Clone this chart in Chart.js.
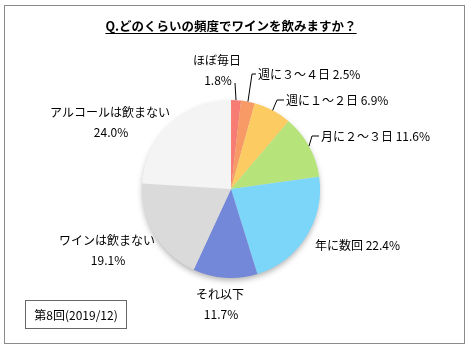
<!DOCTYPE html>
<html>
<head>
<meta charset="utf-8">
<style>
  html, body { margin: 0; padding: 0; background: #fff; }
  #wrap { width: 470px; height: 350px; position: relative; }
</style>
<script src="https://cdn.jsdelivr.net/npm/chart.js"></script>
</head>
<body>
<div id="wrap"><canvas id="wine-chart" width="470" height="350"></canvas></div>
<script>
  // data
  const categories = ["ほぼ毎日", "週に３～４日", "週に１～２日", "月に２～３日", "年に数回", "それ以下", "ワインは飲まない", "アルコールは飲まない"];
  const shares = [1.8, 2.5, 6.9, 11.6, 22.4, 11.7, 19.1, 24.0];
  const titleText = "Q.どのくらいの頻度でワインを飲みますか？";
  const noteText = "第8回(2019/12)";

  // slice colours [light, dark]
  const sliceColors = [
    ["#F77C73", "#E2473E"],
    ["#F89A66", "#EC6A3E"],
    ["#FCCB62", "#F0A533"],
    ["#B6E47A", "#88C44C"],
    ["#7CD6FA", "#44A6D6"],
    ["#7488DA", "#4658B0"],
    ["#DADADA", "#B4B4B4"],
    ["#F4F4F4", "#DEDEDE"],
  ];

  // label layout: text anchor, align, two lines or one, leader elbow
  const labelLayout = [
    { x: 217, y: 60, align: "center", twoLine: true, elbow: [235, 83] },
    { x: 258, y: 74, align: "left", elbow: [252, 74] },
    { x: 286, y: 100, align: "left", elbow: [277, 100] },
    { x: 321, y: 136, align: "left", elbow: [312, 136] },
    { x: 315, y: 245, align: "left" },
    { x: 220, y: 294, align: "center", twoLine: true },
    { x: 107, y: 240, align: "center", twoLine: true },
    { x: 110, y: 112, align: "center", twoLine: true },
  ];

  const FONT = '"Noto Sans CJK JP", "Noto Sans", sans-serif';

  function sliceFill(context) {
    const i = context.dataIndex;
    const chart = context.chart;
    const meta = chart.getDatasetMeta(0);
    const arc = meta.data[i];
    if (!arc || !arc.outerRadius) return sliceColors[i][0];
    const r = arc.outerRadius;
    const g = chart.ctx.createLinearGradient(arc.x - r, arc.y - r, arc.x + r * 0.8, arc.y + r * 0.8);
    g.addColorStop(0, sliceColors[i][0]);
    g.addColorStop(1, sliceColors[i][1]);
    return g;
  }

  const decorPlugin = {
    id: "decor",
    beforeDatasetsDraw(chart) {
      const ctx = chart.ctx;
      const arc = chart.getDatasetMeta(0).data[0];
      if (!arc) return;
      ctx.save();
      ctx.shadowColor = "rgba(0,0,0,0.35)";
      ctx.shadowBlur = 6;
      ctx.shadowOffsetY = 3;
      ctx.fillStyle = "#ddd";
      ctx.beginPath();
      ctx.arc(arc.x, arc.y, arc.outerRadius - 1, 0, Math.PI * 2);
      ctx.fill();
      ctx.restore();
    },
    afterDraw(chart) {
      const ctx = chart.ctx;
      ctx.save();
      // frame
      ctx.strokeStyle = "#8a8a8a";
      ctx.lineWidth = 1;
      ctx.strokeRect(4.5, 5.5, 460, 338);

      // title
      ctx.fillStyle = "#000";
      ctx.font = "bold 12.5px " + FONT;
      ctx.textAlign = "center";
      ctx.textBaseline = "middle";
      ctx.fillText(titleText, 231, 26);
      const tw = ctx.measureText(titleText).width;
      ctx.fillRect(231 - tw / 2, 33, tw, 1);

      // labels and leaders
      const meta = chart.getDatasetMeta(0);
      ctx.font = "12px " + FONT;
      labelLayout.forEach((lab, i) => {
        const pct = shares[i].toFixed(1) + "%";
        ctx.textAlign = lab.align;
        ctx.fillStyle = "#000";
        if (lab.twoLine) {
          ctx.fillText(categories[i], lab.x, lab.y);
          ctx.fillText(pct, lab.x + 1, lab.y + 20);
        } else {
          ctx.fillText(categories[i] + " " + pct, lab.x, lab.y);
        }
        if (lab.elbow) {
          const a = meta.data[i];
          const mid = (a.startAngle + a.endAngle) / 2;
          const ex = a.x + Math.cos(mid) * a.outerRadius;
          const ey = a.y + Math.sin(mid) * a.outerRadius;
          ctx.strokeStyle = "#000";
          ctx.lineWidth = 1;
          ctx.beginPath();
          ctx.moveTo(ex, ey);
          ctx.lineTo(lab.elbow[0], lab.elbow[1]);
          if (lab.align === "left") ctx.lineTo(lab.x - 2, lab.elbow[1]);
          ctx.stroke();
        }
      });

      // note box
      ctx.strokeStyle = "#666";
      ctx.strokeRect(25.5, 300.5, 101, 28);
      ctx.textAlign = "center";
      ctx.fillText(noteText, 76, 315);
      ctx.restore();
    },
  };

  const ctx = document.getElementById("wine-chart").getContext("2d");
  const wineChart = new Chart(ctx, {
    type: "pie",
    data: {
      labels: categories,
      datasets: [
        {
          data: shares,
          backgroundColor: sliceFill,
          borderWidth: 0,
        },
      ],
    },
    options: {
      responsive: false,
      animation: false,
      layout: { padding: { top: 100, bottom: 72, left: 142, right: 150 } },
      plugins: {
        legend: { display: false },
        tooltip: { enabled: false },
      },
    },
    plugins: [decorPlugin],
  });
</script>
</body>
</html>
